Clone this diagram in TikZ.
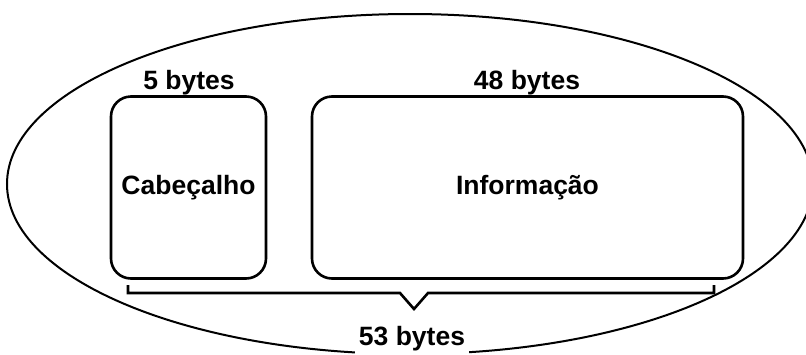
\documentclass[tikz,border=0pt]{standalone}
\usepackage{fontspec}
\setmainfont{Liberation Sans}
\usetikzlibrary{shapes.geometric}
\begin{document}
\begin{tikzpicture}[x=1pt,y=-1pt,
  lbl/.style={font=\fontsize{26.5}{30}\selectfont\bfseries, inner sep=0pt, anchor=base},
  cell/.style={draw, line width=2.6pt, rounded corners=20pt, inner sep=0pt,
    font=\fontsize{26.5}{30}\selectfont\bfseries},
  brace/.style={draw, line width=2.6pt, line join=miter}]
\useasboundingbox (0,0) rectangle (806,354);
\node[draw, ellipse, line width=2pt, minimum width=806pt, minimum height=340pt,
  inner sep=0pt] (outer) at (410,184) {};
\node[cell, minimum width=155pt, minimum height=182pt] (cab) at (188.5,187.5) {Cabeçalho};
\node[cell, minimum width=431pt, minimum height=182pt] (inf) at (527.5,187.5) {Informação};
\node[lbl] (l5) at (189,89) {5 bytes};
\node[lbl] (l48) at (527,89) {48 bytes};
\coordinate (bl) at (128,285);
\coordinate (br) at (714,285);
\coordinate (tip) at (414,309);
\draw[brace] (bl) |- (400,293) -- (tip) -- (428,293) -| (br);
\node[lbl, fill=white, inner sep=4pt] (l53) at (412,345) {53 bytes};
\end{tikzpicture}
\end{document}
